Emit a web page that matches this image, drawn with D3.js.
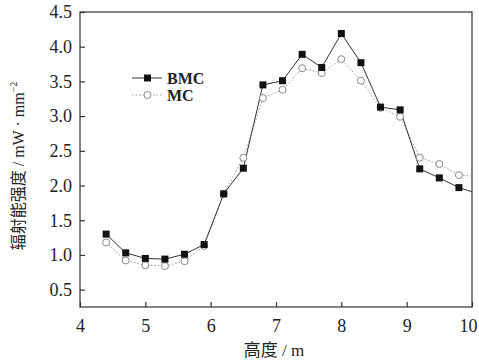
<!DOCTYPE html>
<html>
<head>
<meta charset="utf-8">
<script src="https://cdn.jsdelivr.net/npm/d3@7"></script>
<style>
  body { margin: 0; background: #fff; }
  text { font-family: "Liberation Serif", "Noto Sans CJK SC", serif; fill: #222; }
</style>
</head>
<body>
<svg width="479" height="360"></svg>
<script>
// heights (m) and radiation intensity (mW/mm^2); last entry lies just past the axis end
var heights = [4.4, 4.7, 5.0, 5.3, 5.6, 5.9, 6.2, 6.5, 6.8, 7.1, 7.4, 7.7, 8.0, 8.3, 8.6, 8.9, 9.2, 9.5, 9.8, 10.1];
var bmcValues = [1.30, 1.03, 0.95, 0.94, 1.01, 1.15, 1.88, 2.25, 3.45, 3.51, 3.89, 3.70, 4.19, 3.77, 3.13, 3.09, 2.24, 2.11, 1.97, 1.88];
var mcValues = [1.18, 0.92, 0.85, 0.84, 0.91, 1.13, 1.88, 2.40, 3.26, 3.38, 3.69, 3.62, 3.82, 3.51, 3.12, 2.99, 2.40, 2.31, 2.15, 2.13];
var xTicks = [4, 5, 6, 7, 8, 9, 10];
var yTicks = [0.5, 1.0, 1.5, 2.0, 2.5, 3.0, 3.5, 4.0, 4.5];
var seriesNames = ["BMC", "MC"];

var svg = d3.select("svg"),
    margin = { top: 12, right: 7, bottom: 53, left: 80 },
    width = svg.attr("width") - margin.left - margin.right,
    height = svg.attr("height") - margin.top - margin.bottom;

var x = d3.scaleLinear().domain([4, 10]).range([0, width]),
    y = d3.scaleLinear().domain([0.25, 4.5]).range([height, 0]);

var g = svg.append("g")
    .attr("transform", "translate(" + margin.left + "," + margin.top + ")");

svg.append("defs").append("clipPath").attr("id", "plot")
    .append("rect").attr("width", width).attr("height", height);

// frame
g.append("rect")
    .attr("width", width).attr("height", height)
    .attr("fill", "none").attr("stroke", "#333").attr("stroke-width", 1.2);

// axes with inward ticks
var xAxis = g.append("g")
    .attr("transform", "translate(0," + height + ")")
    .call(d3.axisBottom(x).tickValues(xTicks).tickFormat(d3.format("d")).tickSizeInner(-5).tickSizeOuter(0).tickPadding(12));
var yAxis = g.append("g")
    .call(d3.axisLeft(y).tickValues(yTicks).tickFormat(d3.format(".1f")).tickSizeInner(-5).tickSizeOuter(0).tickPadding(8));

[xAxis, yAxis].forEach(function(a) {
    a.select(".domain").remove();
    a.selectAll("line").attr("stroke", "#333").attr("stroke-width", 1.2);
    a.selectAll("text").style("font-size", "18px").style("font-family", "Liberation Serif").attr("fill", "#222");
});
// keep the last label inside the window
xAxis.selectAll("text").filter(function(d) { return d === 10; }).attr("dx", -4);

var data = heights.map(function(h, i) {
    return { h: h, bmc: bmcValues[i], mc: mcValues[i] };
});

var plot = g.append("g").attr("clip-path", "url(#plot)");

var lineBmc = d3.line().x(function(d) { return x(d.h); }).y(function(d) { return y(d.bmc); });
var lineMc = d3.line().x(function(d) { return x(d.h); }).y(function(d) { return y(d.mc); });

plot.append("path").datum(data)
    .attr("d", lineMc)
    .attr("fill", "none").attr("stroke", "#999").attr("stroke-width", 1)
    .attr("stroke-dasharray", "1.5,2");

plot.append("path").datum(data)
    .attr("d", lineBmc)
    .attr("fill", "none").attr("stroke", "#333").attr("stroke-width", 1);

plot.selectAll(".mc").data(data).enter().append("circle")
    .attr("class", "mc")
    .attr("cx", function(d) { return x(d.h); })
    .attr("cy", function(d) { return y(d.mc); })
    .attr("r", 3.5)
    .attr("fill", "#fff").attr("stroke", "#888").attr("stroke-width", 1);

plot.selectAll(".bmc").data(data).enter().append("rect")
    .attr("class", "bmc")
    .attr("x", function(d) { return x(d.h) - 3.5; })
    .attr("y", function(d) { return y(d.bmc) - 3.5; })
    .attr("width", 7).attr("height", 7)
    .attr("fill", "#111");

// legend
var legend = g.append("g").attr("transform", "translate(52,66)");
seriesNames.forEach(function(name, i) {
    var row = legend.append("g").attr("transform", "translate(0," + (i * 17) + ")");
    row.append("line").attr("x1", 0).attr("x2", 30)
        .attr("stroke", i === 0 ? "#333" : "#999").attr("stroke-width", 1)
        .attr("stroke-dasharray", i === 0 ? null : "1.5,2");
    if (i === 0) {
        row.append("rect").attr("x", 12).attr("y", -3.5).attr("width", 7).attr("height", 7).attr("fill", "#111");
    } else {
        row.append("circle").attr("cx", 15.5).attr("r", 3.5).attr("fill", "#fff").attr("stroke", "#888");
    }
    row.append("text").attr("x", 35).attr("y", 5.5)
        .style("font-size", "16px").style("font-weight", "bold")
        .text(name);
});

// axis titles
svg.append("text")
    .attr("x", margin.left + width / 2 - 2)
    .attr("y", 356)
    .attr("text-anchor", "middle")
    .style("font-size", "17px")
    .text("高度 / m");

var yTitle = svg.append("text")
    .attr("transform", "translate(24," + (margin.top + 154) + ") rotate(-90)")
    .attr("text-anchor", "middle")
    .style("font-size", "16px");
yTitle.append("tspan").text("辐射能强度 / mW · mm");
yTitle.append("tspan").attr("dy", -7).style("font-size", "10px").text("−2");
</script>
</body>
</html>
